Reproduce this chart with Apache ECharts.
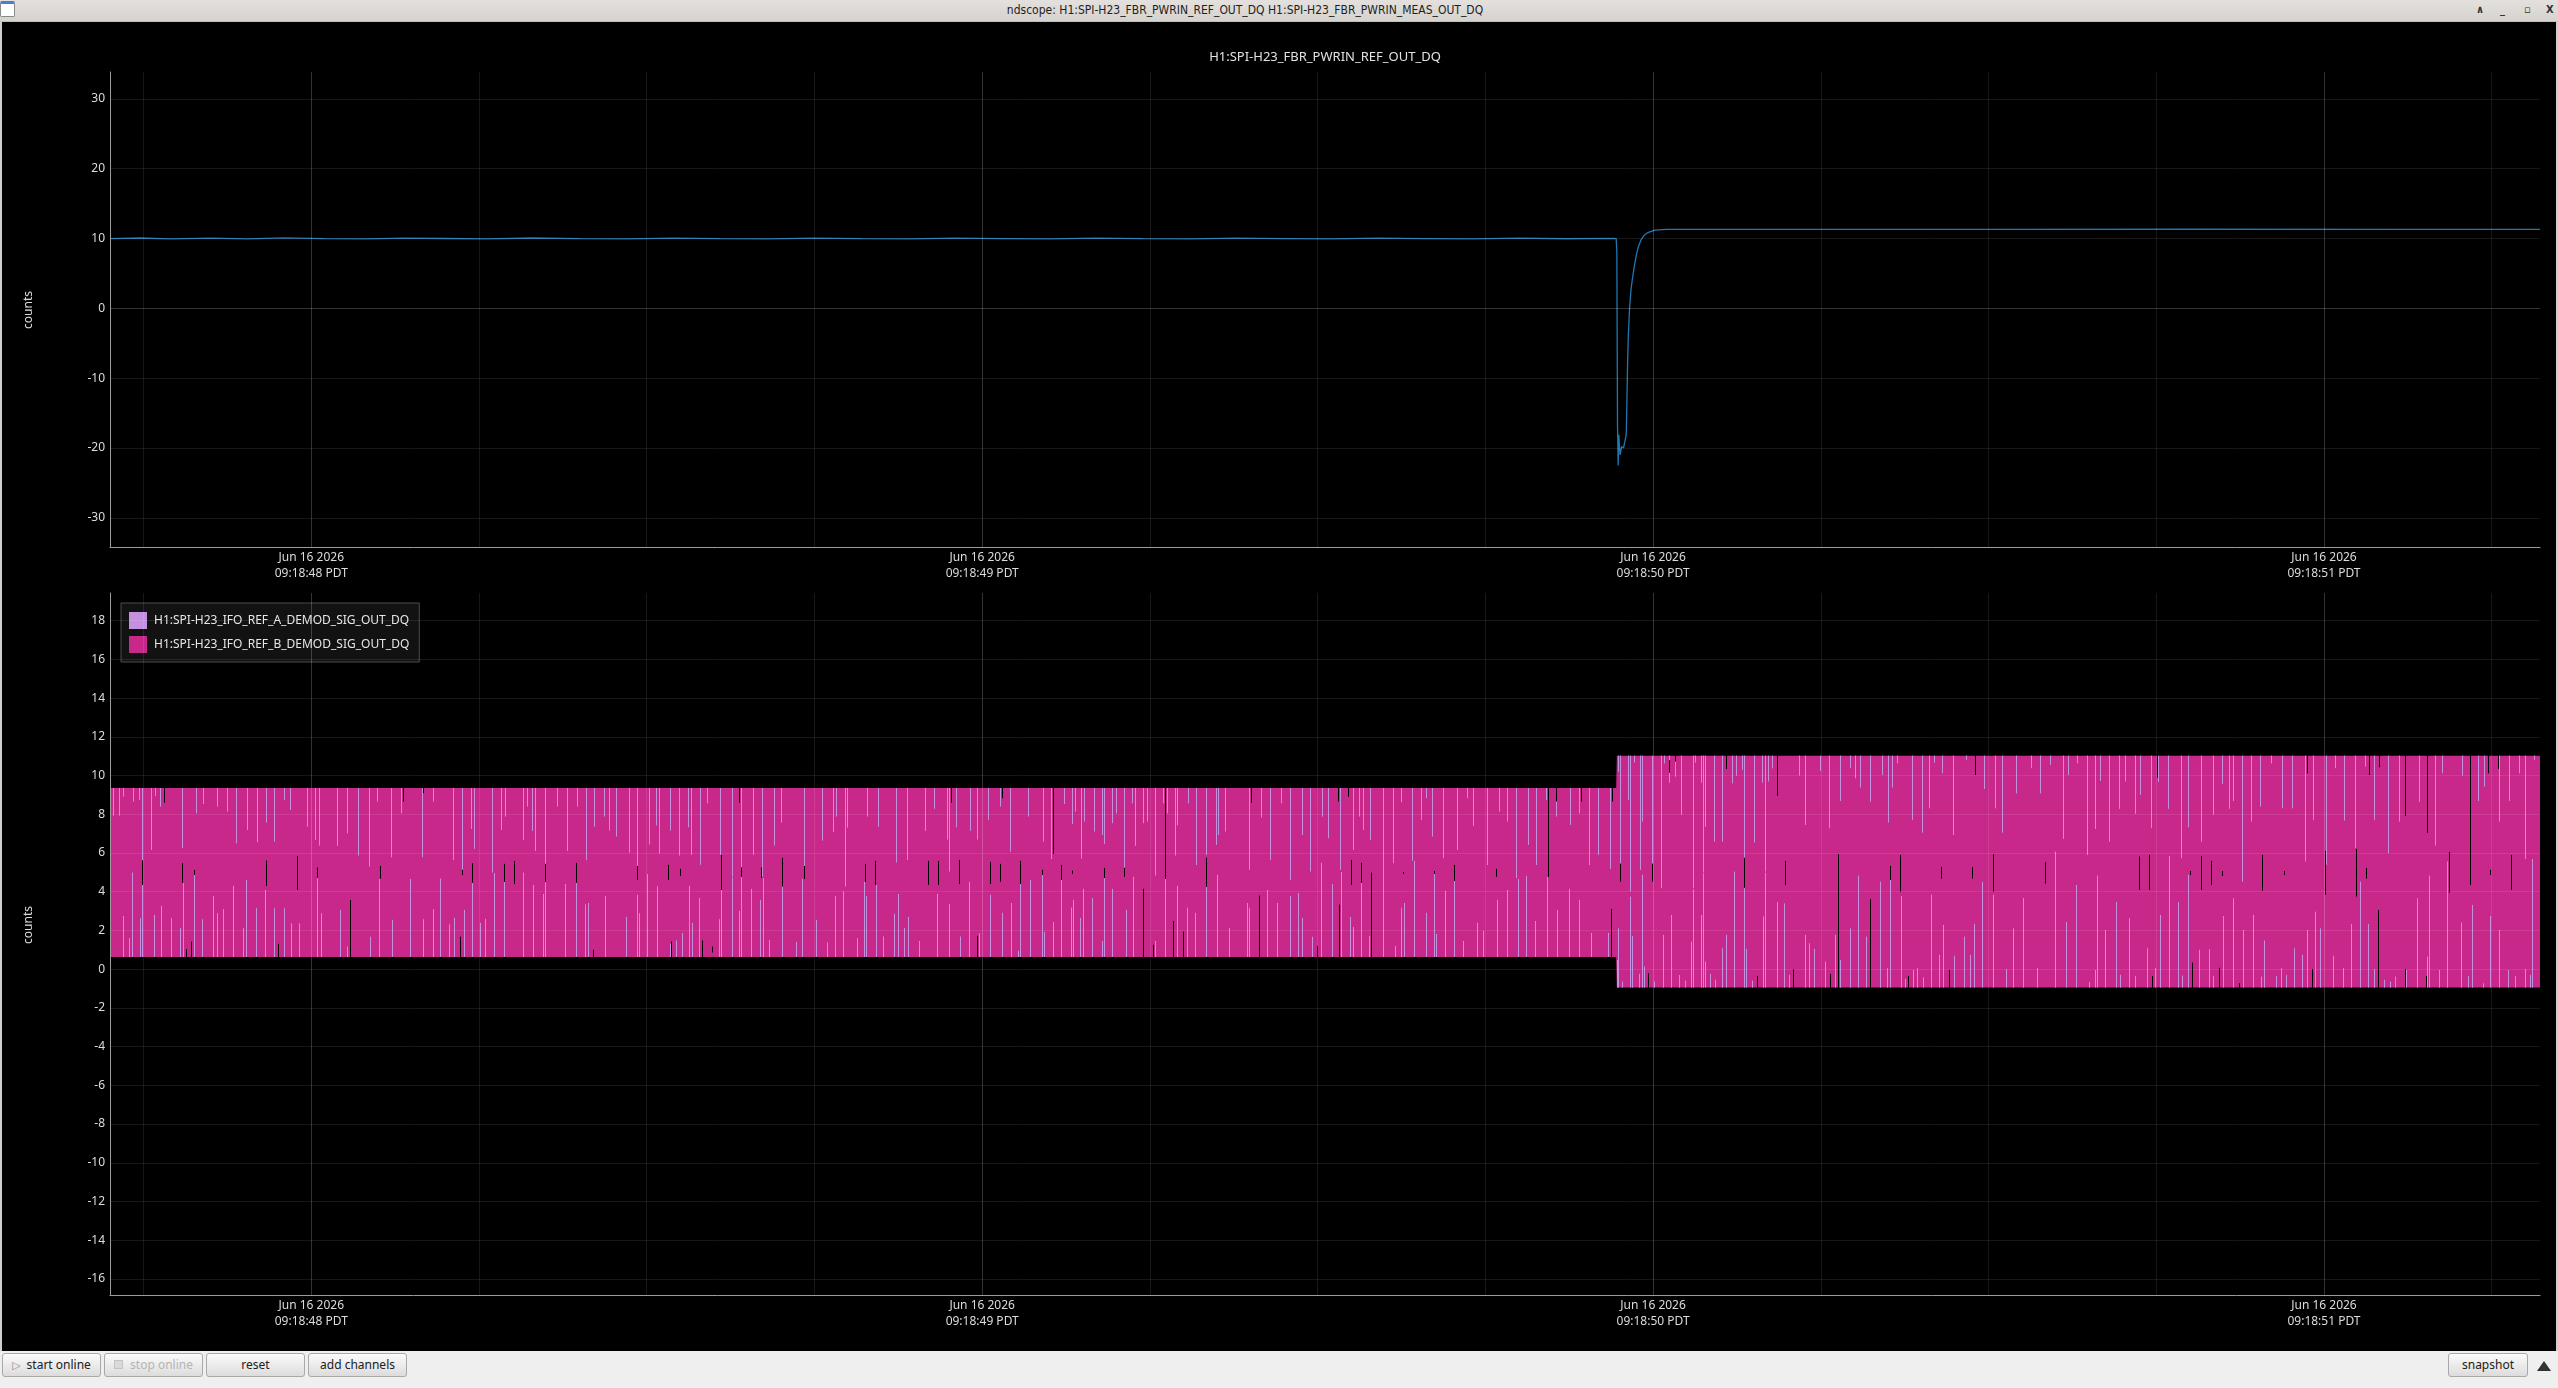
<!DOCTYPE html>
<html>
<head>
<meta charset="utf-8">
<script src="https://cdn.jsdelivr.net/npm/echarts@6/dist/echarts.min.js"></script>
<style>
html, body { margin: 0; padding: 0; width: 2558px; height: 1388px; overflow: hidden; background: #efefef; font-family: 'Noto Sans', sans-serif; }
#frame { position: absolute; left: 0; top: 22px; width: 2558px; height: 1329px; background: #cfcfcf; }
#plotbg { position: absolute; left: 2px; top: 22px; width: 2554px; height: 1329px; background: #000; }
#chart { position: absolute; left: 0; top: 0; width: 2558px; height: 1388px; }
#titlebar { position: absolute; left: 0; top: 0; width: 2558px; height: 22px; background: linear-gradient(#e3e0dd, #d6d3cf); border-bottom: 1px solid #c2bfbb; box-sizing: border-box; }
#titlebar .t { position: absolute; left: 0; width: 2490px; top: 3px; text-align: center; font: 12px 'DejaVu Sans Condensed', sans-serif; color: #1e1e1e; }
#titlebar .ico { position: absolute; left: 0; top: 1px; width: 15px; height: 16px; background: #fff; border: 1px solid #8a8a8a; border-top: 3px solid #4a7fd0; border-radius: 2px; box-sizing: border-box; }
#titlebar .w { position: absolute; top: 3px; font: bold 11px 'DejaVu Sans Condensed', sans-serif; color: #333; }
#toolbar { position: absolute; left: 0; top: 1351px; width: 2558px; height: 37px; background: #efefef; }
.btn { position: absolute; top: 2px; height: 24px; border: 1px solid #a9a9a9; border-radius: 3px; background: linear-gradient(#fbfbfb, #dcdcdc); font: 12px 'Noto Sans', sans-serif; color: #202020; text-align: center; line-height: 22px; box-sizing: border-box; }
.btn.dis { color: #b4b4b4; }
.btn .ic { font: 11px 'DejaVu Sans', sans-serif; color: #8a8a8a; margin-right: 6px; }
.btn .sq { display: inline-block; width: 7px; height: 7px; background: #dadada; border: 1px solid #c4c4c4; margin-right: 7px; vertical-align: 0; }
.tri { position: absolute; left: 2537px; top: 10px; width: 0; height: 0; border-left: 7px solid transparent; border-right: 7px solid transparent; border-bottom: 10px solid #333; }
</style>
</head>
<body>
<div id="frame"></div>
<div id="plotbg"></div>
<div id="chart"></div>
<div id="titlebar">
  <div class="ico"></div>
  <div class="t">ndscope: H1:SPI-H23_FBR_PWRIN_REF_OUT_DQ H1:SPI-H23_FBR_PWRIN_MEAS_OUT_DQ</div>
  <span class="w" style="left:2476px">&#8743;</span>
  <span class="w" style="left:2500px">_</span>
  <span class="w" style="left:2524px">&#9643;</span>
  <span class="w" style="left:2546px">X</span>
</div>
<div id="toolbar">
  <div class="btn" style="left:2px;width:99px"><span class="ic">&#9655;</span>start online</div>
  <div class="btn dis" style="left:104px;width:99px"><span class="sq"></span>stop online</div>
  <div class="btn" style="left:206px;width:99px">reset</div>
  <div class="btn" style="left:308px;width:99px">add channels</div>
  <div class="btn" style="left:2448px;width:80px">snapshot</div>
  <div class="tri"></div>
</div>
<script>
'use strict';

// ---- palette ----
const C = { ref: '#1f77b4', chA: '#c490e0', chB: '#c7288a', text: '#dcdcdc', axis: '#9c9c9c',
  grid: 'rgba(255,255,255,0.09)', major: 'rgba(255,255,255,0.12)', legendBg: '#121212', legendBorder: '#4c4c4c' };

const NAME_REF = 'H1:SPI-H23_FBR_PWRIN_REF_OUT_DQ';
const NAME_A = 'H1:SPI-H23_IFO_REF_A_DEMOD_SIG_OUT_DQ';
const NAME_B = 'H1:SPI-H23_IFO_REF_B_DEMOD_SIG_OUT_DQ';

// ---- time axis: milliseconds past 09:18:00 PDT, Jun 16 2026 ----
const T_MIN = 47700, T_MAX = 51322;
const majorSec = [48000, 49000, 50000, 51000];

// ---- top plot: REF_OUT_DQ trace ----
const refT = [47700, 47745, 47790, 47850, 47905, 47960, 48020, 48080, 48140, 48200, 48260, 48330, 48400, 48470,
  48540, 48610, 48680, 48750, 48820, 48890, 48960, 49030, 49100, 49170, 49240, 49310, 49380, 49450, 49520,
  49590, 49660, 49730, 49800, 49870, 49940, 49945,
  49946, 49947, 49948, 49949, 49950, 49951, 49953, 49956, 49958, 49960, 49961, 49962, 49963, 49965, 49967,
  49969, 49972, 49975, 49978, 49982, 49987, 49993, 50003, 50020, 50200, 50500, 50800, 51100, 51322];
const refV = [10.0, 10.08, 9.96, 10.06, 9.95, 10.09, 10.0, 9.95, 10.07, 10.01, 9.96, 10.08, 10.0, 9.95,
  10.06, 10.0, 9.96, 10.07, 10.0, 9.95, 10.06, 10.0, 9.96, 10.07, 10.0, 9.95, 10.06, 10.0, 9.96,
  10.07, 10.0, 9.95, 10.05, 9.97, 10.03, 10.0,
  8.1, -16.7, -22.5, -18.1, -20.0, -21.0, -19.8, -20.0, -19.8, -18.1, -13.4, -7.9, -4.1, 0.0, 2.6,
  4.1, 6.0, 7.6, 8.8, 9.8, 10.5, 10.9, 11.2, 11.3, 11.32, 11.3, 11.33, 11.3, 11.32];
const topTicks = { min: -34.19, max: 33.86, step: 10 };

// ---- bottom plot: demod signals (dense oscillation drawn as its envelope) ----
const envT = [47700, 49945, 49946, 51322];
const envHi = [9.36, 9.36, 11.03, 11.03];
const envLo = [0.63, 0.63, -0.95, -0.95];
const botTicks = { min: -16.83, max: 19.43, step: 2 };

// channel A glimpses: [time, end] hanging down from the upper edge
const aTop = [[47704,7.93],[47713,7.93],[47720,8.91],[47735,8.66],[47743,8.74],[47748,5.64],[47761,6.16],[47767,8.95],[47774,8.40],[47807,6.25],[47828,8.05],[47839,8.53],[47859,8.40],[47874,8.14],[47888,6.50],[47904,7.19],[47919,6.56],[47932,7.57],[47945,6.59],[47959,8.74],[47968,8.23],[47994,7.36],[48005,6.68],[48012,6.38],[48038,6.37],[48053,7.02],[48069,5.87],[48086,5.30],[48098,8.66],[48119,5.78],[48134,8.05],[48165,5.78],[48182,8.66],
  [48211,5.64],[48224,5.13],[48238,7.24],[48242,6.21],[48270,4.99],[48283,7.19],[48289,7.88],[48315,6.68],[48321,8.40],[48329,7.14],[48334,6.11],[48348,4.52],[48367,8.40],[48381,6.11],[48396,8.40],[48409,5.63],[48422,7.36],[48437,7.88],[48444,7.16],[48454,6.85],[48473,6.02],[48486,4.87],[48504,6.44],[48514,7.42],[48519,5.97],[48535,7.16],[48548,5.87],[48561,7.33],[48566,5.90],[48580,5.39],[48590,8.57],[48609,5.90],[48627,4.78],[48640,5.25],[48658,5.90],[48672,4.77],[48689,6.38],[48700,7.57],[48734,4.66],[48762,6.64],[48777,7.09],[48782,7.88],[48795,4.27],[48798,7.31],[48829,7.88],[48844,7.36],[48871,5.51],[48888,5.64],[48915,7.14],[48928,8.28],[48947,6.69],[48950,5.04],[48961,7.33],[48982,7.14],[48993,6.69],[49009,7.71],[49026,8.40],[49042,6.07],[49069,7.88],
  [49090,6.59],[49102,5.69],[49122,8.53],[49134,7.50],[49138,8.14],[49148,5.71],[49152,7.62],[49167,7.11],[49178,6.93],[49182,6.47],[49193,7.54],[49199,8.05],[49211,5.25],[49223,8.57],[49228,6.37],[49239,7.54],[49245,7.62],[49257,4.83],[49269,8.57],[49276,8.05],[49287,5.87],[49291,7.43],[49307,8.57],[49318,5.38],[49333,5.90],[49348,6.42],[49352,6.93],[49362,7.11],[49397,5.13],[49415,7.83],[49429,5.64],[49446,8.57],[49459,4.61],[49476,6.93],[49488,5.04],[49507,7.88],[49516,6.76],[49533,5.13],[49552,6.16],[49562,7.88],[49568,7.19],[49578,6.68],[49597,5.64],[49613,5.47],[49624,8.62],[49641,5.59],[49654,7.71],[49661,8.83],[49671,6.85],[49687,5.73],[49708,6.16],[49723,8.83],[49732,7.40],[49752,5.38],[49770,8.14],[49783,7.62],[49796,4.70],[49814,6.42],[49825,5.38],[49841,8.74],[49856,7.88],[49876,7.45],[49889,8.05],[49904,5.38],[49918,5.90],[49936,5.18],
  [49947,10.20],[49951,5.47],[49963,8.74],[49966,4.01],[49971,10.67],[49981,5.13],[49984,7.62],[49998,5.47],[50012,4.18],[50017,10.63],[50024,9.63],[50032,9.94],[50041,7.97],[50059,4.18],[50063,10.67],[50071,9.63],[50074,4.99],[50077,7.36],[50091,6.59],[50103,6.59],[50117,9.60],[50124,9.99],[50132,10.29],[50136,5.78],[50150,6.54],[50163,9.63],[50167,5.04],[50171,9.69],[50178,10.37],
  [50217,10.00],[50227,7.45],[50249,10.24],[50262,7.28],[50278,8.69],[50294,10.38],[50301,9.86],[50309,9.38],[50324,8.65],[50341,10.03],[50350,7.57],[50356,9.38],[50364,10.63],[50386,7.71],[50401,7.05],[50411,8.31],[50419,10.67],[50430,10.12],[50447,6.93],[50466,10.81],[50494,9.31],[50510,8.31],[50520,7.05],[50541,9.08],[50564,10.38],[50576,9.08],[50591,10.55],[50611,6.73],[50618,10.03],[50632,10.63],[50647,5.90],[50659,7.24],[50666,9.72],[50679,6.59],[50695,8.28],[50703,9.69],[50719,8.02],[50726,9.00],[50742,7.28],[50753,9.67],[50767,8.28],[50787,5.73],[50797,7.33],[50817,6.59],[50834,7.97],[50848,9.57],[50859,8.28],[50865,8.69],[50878,4.52],[50891,7.62],[50905,8.40],[50921,10.63],[50938,8.31],[50952,8.31],[50971,5.56],[50983,7.71],[51003,5.39],[51017,10.38],[51030,7.67],[51046,6.25],[51061,10.46],[51075,7.71],[51095,5.99],[51112,7.62],[51121,8.57],[51141,8.65],[51165,6.38],[51176,10.12],[51205,10.00],[51230,8.69],[51239,9.43],[51261,7.62],[51276,8.69],[51291,10.12],[51300,5.69],[51313,10.81]];

// channel A glimpses: [time, end] rising from the lower edge
const aBot = [[47719,2.75],[47728,1.60],[47733,4.99],[47744,2.63],[47747,4.35],[47765,2.80],[47776,3.27],[47791,2.63],[47805,2.12],[47809,4.44],[47825,5.13],[47837,2.58],[47853,3.78],[47859,2.89],[47868,3.10],[47884,4.30],[47898,2.12],[47903,4.61],[47917,3.15],[47931,4.09],[47945,3.15],[47960,3.15],[47970,2.37],[47981,2.37],[48009,4.70],[48015,2.89],[48043,3.06],[48053,1.17],[48087,1.68],[48101,4.65],[48120,2.55],[48147,4.66],[48166,2.58],[48181,3.10],
  [48192,4.68],[48206,2.32],[48213,2.65],[48227,3.06],[48240,4.44],[48252,2.39],[48259,2.60],[48272,4.96],[48287,4.52],[48316,4.99],[48331,4.35],[48346,3.89],[48349,4.49],[48378,4.40],[48394,4.44],[48408,3.35],[48412,3.42],[48438,3.78],[48469,2.70],[48485,3.84],[48489,2.89],[48501,4.92],[48516,4.28],[48534,1.31],[48544,1.48],[48552,1.87],[48563,4.30],[48567,2.39],[48578,3.68],[48607,2.58],[48611,4.09],[48627,4.73],[48638,3.01],[48641,4.75],[48655,4.15],[48669,3.58],[48673,4.71],[48682,1.51],[48702,4.27],[48722,1.41],[48732,4.66],[48752,2.55],[48768,1.38],[48781,3.78],[48793,4.03],[48814,1.60],[48824,4.51],[48827,3.78],[48842,4.35],[48852,1.69],[48869,2.86],[48874,3.89],[48884,2.13],[48890,2.70],[48906,1.46],[48932,3.89],[48951,3.37],[48967,1.69],[48981,4.51],[48996,1.86],[49012,3.84],[49029,2.91],[49043,3.42],[49054,0.95],[49057,4.40],
  [49072,4.61],[49089,4.87],[49092,1.93],[49106,2.44],[49118,4.61],[49132,3.18],[49136,3.58],[49146,2.65],[49151,4.15],[49163,3.68],[49178,1.46],[49181,4.70],[49194,4.15],[49214,3.06],[49225,4.77],[49240,0.94],[49257,1.46],[49272,4.66],[49290,4.30],[49305,3.17],[49317,2.91],[49334,4.30],[49350,4.87],[49368,2.13],[49394,3.42],[49398,3.17],[49425,4.09],[49440,3.42],[49459,3.78],[49471,3.94],[49476,2.65],[49492,1.67],[49505,5.49],[49521,4.40],[49535,5.02],[49548,2.70],[49553,2.18],[49565,4.47],[49577,1.72],[49597,5.64],[49616,1.20],[49625,3.17],[49629,3.42],[49643,5.59],[49661,2.91],[49673,4.92],[49677,1.82],[49690,4.04],[49704,4.56],[49716,1.46],[49738,2.39],[49747,1.98],[49768,3.58],[49783,4.09],[49798,4.66],[49811,4.82],[49824,2.49],[49842,4.77],[49857,3.06],[49874,4.15],[49889,3.58],[49908,1.87],[49933,1.87],
  [49946,0.48],[49948,2.11],[49954,-0.64],[49965,3.75],[49969,1.72],[49979,-0.24],[49983,4.87],[49986,0.14],[50001,-0.64],[50015,1.77],[50026,2.80],[50039,-0.30],[50047,-0.59],[50056,1.42],[50060,4.13],[50072,2.80],[50075,4.95],[50078,0.39],[50085,-0.24],[50093,-0.55],[50102,1.08],[50108,1.77],[50120,5.04],[50135,4.18],[50139,1.05],[50148,-0.59],[50164,2.72],[50167,4.99],[50184,3.47],
  [50195,3.40],[50203,-0.30],[50226,1.77],[50232,1.34],[50240,1.05],[50256,0.39],[50271,1.77],[50279,0.48],[50293,2.11],[50305,4.83],[50318,1.68],[50338,4.52],[50349,0.05],[50353,4.61],[50369,3.78],[50375,-0.50],[50387,-0.04],[50394,0.05],[50403,-0.42],[50415,3.84],[50426,0.74],[50432,2.29],[50448,0.69],[50464,1.68],[50473,0.74],[50478,2.34],[50490,4.51],[50507,3.84],[50526,0.01],[50536,2.11],[50552,3.68],[50573,0.05],[50599,6.07],[50616,2.44],[50630,4.35],[50650,-0.67],[50658,-0.04],[50662,4.83],[50674,2.03],[50690,3.47],[50696,-0.29],[50709,2.63],[50719,-0.35],[50736,1.08],[50748,0.05],[50756,2.80],[50769,5.85],[50783,3.46],[50789,-0.33],[50797,4.87],[50814,1.00],[50828,1.03],[50834,-0.35],[50849,2.75],[50864,3.66],[50880,2.03],[50894,2.80],[50906,-0.38],[50911,1.48],[50928,-0.35],[50936,0.05],[50943,-0.30],[50955,1.08],[50967,0.74],[50974,2.03],[50987,2.97],[50994,2.11],[51013,0.69],[51029,0.05],[51040,2.34],[51054,4.52],[51065,2.34],[51075,0.01],[51089,-0.55],[51098,-0.64],[51106,-0.38],[51123,-0.04],[51139,3.66],[51153,0.65],[51157,4.83],[51171,-0.04],[51184,5.56],[51204,2.41],[51214,-0.35],[51220,3.32],[51237,-0.73],[51247,2.75],[51261,2.03],[51274,-0.04],[51284,-0.35],[51299,0.01],[51307,-0.30],[51310,5.69]];

// places where neither channel covers: [time, from, to]
const gaps = [[47747,5.61,4.35],[47781,9.43,8.60],[47808,5.47,4.47],[47813,1.03,0.57],[47820,1.42,0.57],[47825,5.13,4.87],[47932,5.61,4.30],[47951,1.31,0.60],[47978,5.85,4.10],[48009,5.25,4.73],[48058,3.58,0.60],[48102,5.33,4.68],[48136,9.40,8.66],[48167,9.40,9.09],
  [48221,1.68,0.60],[48224,5.13,4.87],[48240,5.47,4.47],[48287,5.44,4.51],[48302,5.59,4.40],[48348,5.44,4.51],[48394,5.49,4.47],[48420,1.00,0.60],[48486,5.33,4.61],[48532,5.39,4.61],[48536,1.43,0.60],[48549,5.18,4.82],[48583,1.48,0.60],[48598,1.17,0.86],[48610,5.90,4.09],[48637,9.40,8.60],[48641,5.25,4.78],[48671,5.25,4.71],[48702,5.75,4.27],[48734,5.33,4.66],[48826,5.44,4.51],[48841,5.59,4.35],[48919,5.59,4.35],[48934,5.59,4.35],[48953,9.40,8.60],[48965,5.64,4.40],[48992,1.72,0.60],[49011,5.54,4.40],[49026,5.44,4.51],[49030,9.40,8.83],[49057,5.59,4.40],
  [49089,5.13,4.87],[49105,9.40,5.95],[49118,5.38,4.61],[49134,5.09,4.92],[49181,5.23,4.71],[49211,5.23,4.78],[49240,4.15,0.60],[49254,1.26,0.60],[49273,9.40,4.66],[49285,2.49,0.60],[49300,1.94,0.60],[49334,5.75,4.25],[49400,9.40,8.60],[49413,3.80,0.60],[49499,1.20,0.60],[49531,9.40,8.66],[49532,3.34,0.60],[49546,9.40,8.91],[49550,5.64,4.35],[49565,5.49,4.46],[49580,4.99,0.60],[49628,5.02,4.92],[49674,5.07,4.92],[49704,5.38,4.56],[49766,5.18,4.77],[49843,9.40,4.76],[49855,9.40,8.66],[49893,9.40,8.66],[49938,3.11,0.60],[49939,9.40,8.66],
  [49951,5.44,4.52],[49993,-0.21,-0.98],[49998,5.44,4.52],[50024,10.80,10.15],[50032,11.06,10.72],[50109,11.06,10.34],[50136,5.73,4.21],[50155,-0.35,-0.98],[50185,11.06,8.96],
  [50197,5.59,4.35],[50209,0.00,-0.98],[50263,-0.24,-0.98],[50275,5.93,-0.98],[50323,3.63,-0.98],[50353,5.33,4.61],[50368,5.90,4.01],[50380,-0.35,-0.98],[50429,5.28,4.68],[50441,-0.04,-0.98],[50475,5.28,4.68],[50480,11.06,10.03],[50507,5.93,4.01],[50584,5.52,4.42],[50724,5.83,4.10],[50739,5.90,4.10],[50743,-0.35,-0.98],[50751,11.06,9.89],[50801,5.07,4.87],[50804,0.34,-0.98],[50816,5.85,4.10],[50831,5.59,4.35],[50843,0.07,-0.98],[50848,5.07,4.82],[50874,-0.73,-0.98],[50908,5.90,4.06],[50940,5.07,4.87],[50974,11.06,10.12],[50982,0.01,-0.98],[51001,6.11,3.84],[51048,6.21,3.75],[51063,5.23,4.68],[51067,11.06,10.03],[51080,3.06,-0.98],[51082,11.06,10.43],[51121,11.06,7.91],[51121,0.01,-0.98],[51152,-0.35,-0.98],[51154,11.06,7.05],[51187,6.06,3.95],[51218,11.06,4.35],[51245,11.06,10.12],[51248,5.13,4.87],[51260,11.06,10.34],[51279,5.90,4.10]];

// ---- helpers ----
const edgeAt = (levels, t) => {
  for (let i = 0; i < envT.length - 1; i++) {
    if (t <= envT[i + 1]) {
      const f = (t - envT[i]) / (envT[i + 1] - envT[i]);
      return levels[i] + f * (levels[i + 1] - levels[i]);
    }
  }
  return levels[levels.length - 1];
};
const fmtTime = v => (v % 1000 === 0 ? 'Jun 16 2026\n09:18:' + (v / 1000) + ' PDT' : '');
const fmtStep = step => v => (Math.abs(v % step) < 1e-9 ? String(v) : '');

const aRows = aTop.map(([t, v]) => [t, edgeAt(envHi, t), v]).concat(aBot.map(([t, v]) => [t, edgeAt(envLo, t), v]));

const segItem = color => (params, api) => {
  const p = api.coord([api.value(0), api.value(1)]);
  const q = api.coord([api.value(0), api.value(2)]);
  const x = Math.round(p[0]) + 0.5;
  return { type: 'line', shape: { x1: x, y1: p[1], x2: x, y2: q[1] }, style: { stroke: color, lineWidth: 1 } };
};

const bandItem = (params, api) => {
  const up = envT.map((t, i) => api.coord([t, envHi[i]]));
  const dn = envT.map((t, i) => api.coord([t, envLo[i]])).reverse();
  return { type: 'polygon', shape: { points: up.concat(dn) }, style: { fill: C.chB } };
};

const xAxisOf = gridIndex => ({
  type: 'value', gridIndex, min: T_MIN, max: T_MAX, minInterval: 250, maxInterval: 250, z: 5,
  axisLine: { show: true, onZero: false, lineStyle: { color: C.axis } }, axisTick: { show: false },
  axisLabel: { color: C.text, fontSize: 12, lineHeight: 16, margin: 3, formatter: fmtTime },
  splitLine: { show: true, showMinLine: false, showMaxLine: false, lineStyle: { color: C.grid } },
});
const yAxisOf = (gridIndex, k) => ({
  type: 'value', gridIndex, min: k.min, max: k.max, minInterval: k.step, maxInterval: k.step, z: 5,
  axisLine: { show: true, onZero: false, lineStyle: { color: C.axis } }, axisTick: { show: false },
  axisLabel: { color: C.text, fontSize: 12, margin: 5, formatter: fmtStep(k.step) },
  splitLine: { show: true, showMinLine: false, showMaxLine: false, lineStyle: { color: C.grid } },
});
const majorLines = (idx, extra) => ({
  type: 'line', xAxisIndex: idx, yAxisIndex: idx, data: [], z: 6, silent: true,
  markLine: { silent: true, symbol: ['none', 'none'], label: { show: false }, animation: false,
    lineStyle: { color: C.major, width: 1, type: 'solid' },
    data: majorSec.map(v => ({ xAxis: v })).concat(extra) },
});

const chart = echarts.init(document.getElementById('chart'));
chart.setOption({
  animation: false,
  backgroundColor: 'transparent',
  textStyle: { fontFamily: 'Noto Sans' },
  grid: [
    { left: 110, top: 72, width: 2430, height: 475 },
    { left: 110, top: 593, width: 2430, height: 702 },
  ],
  xAxis: [xAxisOf(0), xAxisOf(1)],
  yAxis: [yAxisOf(0, topTicks), yAxisOf(1, botTicks)],
  legend: {
    data: [NAME_A, NAME_B], orient: 'vertical', left: 121, top: 603, selectedMode: false,
    icon: 'rect', itemWidth: 18, itemHeight: 17, itemGap: 7, padding: [9, 10, 9, 8],
    backgroundColor: C.legendBg, borderColor: C.legendBorder, borderWidth: 1,
    textStyle: { color: '#e6e6e6', fontSize: 12, padding: [0, 0, 0, 2] },
  },
  graphic: [
    { type: 'text', x: 1325, y: 57, silent: true, style: { text: NAME_REF, fill: '#e2e2e2', font: '13px "Noto Sans"', textAlign: 'center', textVerticalAlign: 'middle' } },
    { type: 'text', x: 29, y: 310, rotation: Math.PI / 2, silent: true, style: { text: 'counts', fill: C.text, font: '12px "Noto Sans"', textAlign: 'center', textVerticalAlign: 'middle' } },
    { type: 'text', x: 29, y: 925, rotation: Math.PI / 2, silent: true, style: { text: 'counts', fill: C.text, font: '12px "Noto Sans"', textAlign: 'center', textVerticalAlign: 'middle' } },
  ],
  series: [
    { name: NAME_REF, type: 'line', xAxisIndex: 0, yAxisIndex: 0, data: refT.map((t, i) => [t, refV[i]]),
      showSymbol: false, symbol: 'none', lineStyle: { color: C.ref, width: 1.3 }, itemStyle: { color: C.ref }, z: 2 },
    majorLines(0, [{ yAxis: 0 }]),
    { name: NAME_B, type: 'custom', xAxisIndex: 1, yAxisIndex: 1, data: [[envT[0], envLo[0]]], renderItem: bandItem,
      itemStyle: { color: C.chB }, clip: true, z: 2, silent: true },
    { name: NAME_A, type: 'custom', xAxisIndex: 1, yAxisIndex: 1, data: aRows, renderItem: segItem(C.chA),
      encode: { x: 0, y: [1, 2] }, itemStyle: { color: C.chA }, clip: true, z: 3, silent: true },
    { name: 'gaps', type: 'custom', xAxisIndex: 1, yAxisIndex: 1, data: gaps, renderItem: segItem('#000'),
      encode: { x: 0, y: [1, 2] }, itemStyle: { color: '#000' }, clip: true, z: 3, silent: true },
    majorLines(1, []),
  ],
});
</script>
</body>
</html>
